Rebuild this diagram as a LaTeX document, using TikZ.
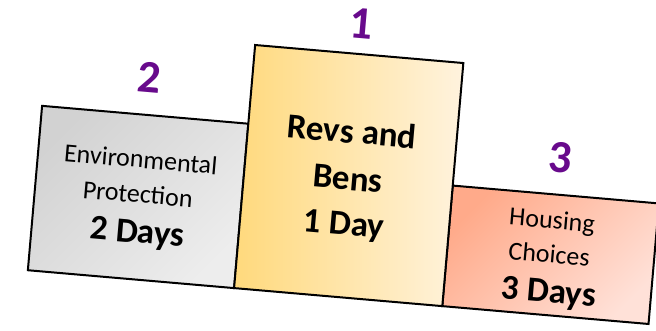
\documentclass[tikz,border=0pt]{standalone}
\usepackage{fontspec}
\setmainfont{Carlito}
\definecolor{rankpurple}{HTML}{680A8C}
\definecolor{silverA}{HTML}{D2D2D2}
\definecolor{silverB}{HTML}{EDEDED}
\definecolor{goldA}{HTML}{FFD97C}
\definecolor{goldB}{HTML}{FFF3DE}
\definecolor{salmonA}{HTML}{FFAA8A}
\definecolor{salmonB}{HTML}{FFE1D8}
\tikzset{
  podium/.style={draw=black, line width=2pt, rectangle, inner sep=0pt, anchor=south west},
  label/.style={anchor=mid, inner sep=0pt, font=\fontsize{26}{30}\selectfont},
  days/.style={anchor=mid, inner sep=0pt, font=\fontsize{35}{40}\selectfont\bfseries},
  rank/.style={anchor=mid, inner sep=0pt, text=rankpurple, font=\fontsize{46}{50}\selectfont\bfseries}
}
\begin{document}
\begin{tikzpicture}[x=1pt,y=1pt]
\useasboundingbox (0,-331) rectangle (656,0);
\begin{scope}[shift={(233,-289)}, rotate=-4.95, transform shape]
  % second place (left) and third place (right), drawn below the winner block
  \node[podium, minimum width=207, minimum height=165,
        top color=silverA, bottom color=silverB, shading angle=45] (second) at (-207,0) {};
  \node[podium, minimum width=207, minimum height=121,
        top color=salmonA, bottom color=salmonB, shading angle=45] (third) at (209,0) {};
  % winner block in the middle
  \node[podium, minimum width=209, minimum height=244,
        left color=goldA, right color=goldB] (first) at (0,0) {};

  % texts on the blocks
  \node[label] (envA) at (-103,115) {Environmental};
  \node[label] (envB) at (-103,80) {Protection};
  \node[days]  (envC) at (-100,40) {2 Days};

  \node[days] (revA) at (105,158) {Revs and};
  \node[days] (revB) at (105,111) {Bens};
  \node[days] (revC) at (105,66) {1 Day};

  \node[label] (houA) at (312,90) {Housing};
  \node[label] (houB) at (312,56) {Choices};
  \node[days]  (houC) at (315,16) {3 Days};

  % ranking numbers above the blocks
  \node[rank] (r2) at (-102,191) {2};
  \node[rank] (r1) at (105,263) {1};
  \node[rank] (r3) at (315,147) {3};
\end{scope}
\end{tikzpicture}
\end{document}
